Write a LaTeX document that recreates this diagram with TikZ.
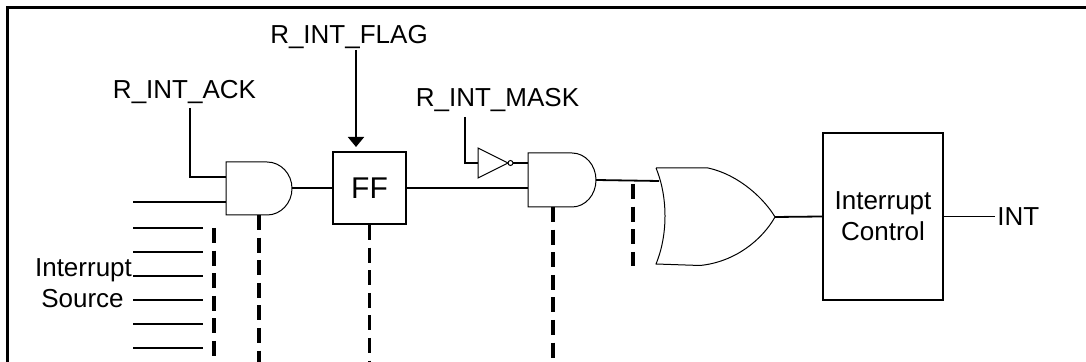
\documentclass[tikz,border=0pt]{standalone}
\usepackage{fontspec}
\setmainfont{Liberation Sans}
\usetikzlibrary{arrows.meta}
\begin{document}
\begin{tikzpicture}[x=0.5pt,y=0.5pt,
  wire/.style={line width=0.9pt},
  gate/.style={line width=0.5pt},
  dashline/.style={line width=1.8pt, dash pattern=on 7.5pt off 3.8pt},
  lbl/.style={font=\fontsize{13}{15.5}\selectfont, inner sep=0pt},
  box/.style={draw, line width=1pt, inner sep=0pt, align=center}]
\useasboundingbox (0,0) rectangle (1086,-362);
% frame
\draw[line width=1.4pt] (7.5,-362) -- (7.5,-7.5) -- (1086,-7.5);
% labels
\node[lbl, anchor=base] (ack) at (184.5,-99) {R\_INT\_ACK};
\node[lbl, anchor=base] (flag) at (349,-44) {R\_INT\_FLAG};
\node[lbl, anchor=base] (mask) at (497.5,-107) {R\_INT\_MASK};
\node[lbl, anchor=base west] (int) at (997,-226) {INT};
\node[lbl, anchor=base] (src1) at (83.5,-277) {Interrupt};
\node[lbl, anchor=base] (src2) at (82.5,-308) {Source};
% boxes
\node[box, minimum width=36.5pt, minimum height=36pt, font=\fontsize{15}{18}\selectfont] (ff) at (369.5,-188) {FF};
\node[box, minimum width=60pt, minimum height=83.5pt, font=\fontsize{13}{15.5}\selectfont] (ic) at (883,-216.5) {Interrupt\\Control};
% AND 1
\draw[gate] (226,-162) -- (267,-162) arc[start angle=90,end angle=-90,x radius=25,y radius=26.5] -- (226,-215) -- cycle;
\coordinate (a1in1) at (226,-177);
\coordinate (a1in2) at (226,-202);
\coordinate (a1out) at (292,-188);
\coordinate (a1bot) at (259,-215);
% AND 2
\draw[gate] (528,-153) -- (572,-153) arc[start angle=90,end angle=-90,x radius=24,y radius=27] -- (528,-207) -- cycle;
\coordinate (a2in1) at (528,-163);
\coordinate (a2in2) at (528,-188);
\coordinate (a2out) at (596,-180);
\coordinate (a2bot) at (553,-207);
% inverter
\draw[gate] (478,-148) -- (508,-163) -- (478,-178) -- cycle;
\draw[gate] (510.5,-163) circle[radius=2.5];
\coordinate (invin) at (478,-163);
\coordinate (invout) at (513,-163);
% OR
\draw[gate] (656,-168) -- (708,-168) .. controls (740,-175) and (765,-200) .. (775,-217)
  .. controls (762,-240) and (735,-262) .. (700,-265.5) -- (656,-264)
  .. controls (668,-235) and (668,-197) .. (656,-168);
\coordinate (orin) at (659,-181);
\coordinate (orout) at (775,-217);
% wires
\coordinate (ackw) at (190,-108);
\draw[wire] (ackw) |- (a1in1);
\coordinate (s0) at (133,-202);
\draw[wire] (s0) -- (a1in2);
\foreach \yy in {228,252,276,300,324,348} {
  \draw[wire] (133,-\yy) -- (203,-\yy);
}
\draw[wire] (a1out) -- (a1out -| ff.west);
\coordinate (flagw) at (356,-50);
\draw[wire, -{Triangle[width=8pt,length=5pt]}] (flagw) -- (flagw |- 0,-147);
\draw[wire] (ff.east) -- (a2in2);
\coordinate (maskw) at (465,-117);
\draw[wire] (maskw) |- (invin);
\draw[wire] (invout) -- (a2in1);
\draw[wire] (a2out) -- (orin);
\draw[wire] (orout) -- (ic.west);
\coordinate (intw) at (995,-216.5);
\draw[wire] (ic.east) -- (intw);
% dashed
\draw[dashline] (214,-228) -- (214,-362);
\draw[dashline] (a1bot) -- (259,-362);
\draw[dashline] (ff.south) -- (369.5,-362);
\draw[dashline] (a2bot) -- (553,-362);
\draw[dashline] (633,-184) -- (633,-266);
\end{tikzpicture}
\end{document}
